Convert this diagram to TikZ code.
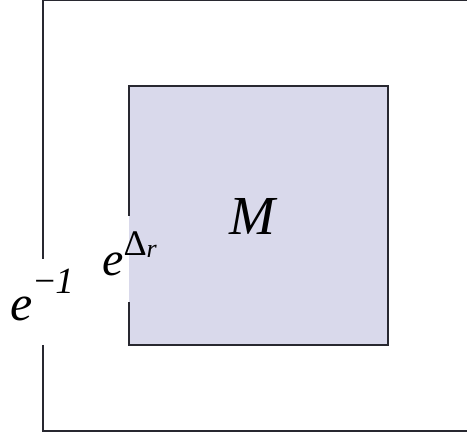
\documentclass[tikz,border=0pt]{standalone}
\usepackage{fontspec}
\setmainfont{Liberation Serif}
\definecolor{boxfill}{RGB}{217,217,235}
\definecolor{edge}{RGB}{40,40,48}
\tikzset{
  frame/.style={draw=edge, line width=1.2pt},
  lbl/.style={inner sep=0pt, anchor=base west},
}
\begin{document}
\begin{tikzpicture}[x=1pt,y=-1pt]
\useasboundingbox (0,0) rectangle (467,435);
% outer frame (right side beyond the picture)
\coordinate (oTL) at (43,0.6);
\coordinate (oTR) at (475,0.6);
\coordinate (oBL) at (43,431);
\coordinate (oBR) at (475,431);
\coordinate (oG1) at (43,259);
\coordinate (oG2) at (43,345);
\draw[frame] (oG1) -- (oTL) -- (oTR);
\draw[frame] (oG2) -- (oBL) -- (oBR);
% inner box
\fill[boxfill] (129,86) rectangle (388,345);
\coordinate (iTL) at (129,86);
\coordinate (iTR) at (388,86);
\coordinate (iBR) at (388,345);
\coordinate (iBL) at (129,345);
\coordinate (iG1) at (129,216);
\coordinate (iG2) at (129,302);
\draw[frame] (iG1) -- (iTL) -- (iTR) -- (iBR) -- (iBL) -- (iG2);
% labels
\node[lbl] (M) at (229,235) {\fontsize{55}{55}\selectfont\itshape M};
\node[lbl] (em1) at (10,321) {\fontsize{50}{50}\selectfont\itshape e\kern2pt\raisebox{27pt}{\fontsize{37}{37}\selectfont\upshape −\itshape 1}};
\node[lbl] (eD) at (102,276) {\fontsize{48}{48}\selectfont\itshape e\raisebox{20pt}{\fontsize{36}{36}\selectfont\upshape Δ}\raisebox{18pt}{\fontsize{26}{26}\selectfont\itshape r}};
\end{tikzpicture}
\end{document}
